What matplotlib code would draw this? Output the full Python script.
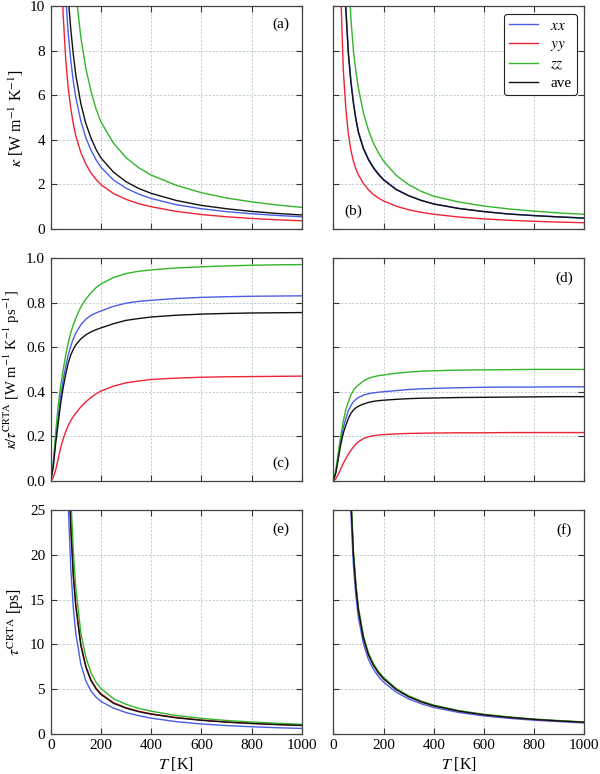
import matplotlib
matplotlib.use("Agg")
import matplotlib.pyplot as plt
from matplotlib.ticker import FormatStrFormatter
import numpy as np

plt.rcParams["font.family"] = "serif"
plt.rcParams["font.serif"] = ["Liberation Serif", "DejaVu Serif"]
plt.rcParams["mathtext.fontset"] = "stix"

# temperature grids [K]
T_dec = [20, 25, 30, 40, 50, 60, 70, 80, 90, 100, 120, 140, 160, 180, 200,
         250, 300, 350, 400, 500, 600, 700, 800, 900, 1000]
T_rise = [0, 10, 20, 30, 40, 50, 60, 70, 80, 90, 100, 120, 140, 160, 180, 200,
          250, 300, 350, 400, 500, 600, 700, 800, 900, 1000]

# (a) kappa, left material
kap_a_xx = [50, 38, 30, 17.7, 12.9, 10.4, 8.75, 7.55, 6.63, 5.9, 4.84, 4.09, 3.55, 3.12, 2.77,
            2.2, 1.83, 1.57, 1.37, 1.09, 0.91, 0.78, 0.685, 0.61, 0.55]
kap_a_yy = [30, 22, 17, 12.7, 9.52, 7.58, 6.3, 5.4, 4.72, 4.18, 3.43, 2.91, 2.52, 2.23, 1.99,
            1.59, 1.33, 1.14, 1.0, 0.79, 0.65, 0.55, 0.475, 0.415, 0.37]
kap_a_zz = [100, 80, 60, 30, 23, 18.7, 15.8, 13.6, 11.9, 10.6, 8.6, 7.2, 6.2, 5.4, 4.8,
            3.85, 3.2, 2.75, 2.42, 1.96, 1.63, 1.39, 1.22, 1.08, 0.97]
kap_a_ave = [70, 50, 38, 21.9, 16.0, 12.65, 10.35, 8.95, 7.83, 6.9, 5.62, 4.73, 4.09, 3.58, 3.19,
             2.55, 2.12, 1.82, 1.6, 1.28, 1.06, 0.91, 0.79, 0.70, 0.63]

# (b) kappa, right material
kap_b_xx = [28.5, 21.3, 17.2, 13.0, 9.95, 7.96, 6.67, 5.72, 4.97, 4.38, 3.64, 3.15, 2.77, 2.48, 2.23,
            1.79, 1.5, 1.29, 1.13, 0.925, 0.785, 0.675, 0.605, 0.545, 0.495]
kap_b_yy = [18, 14, 10.5, 7.1, 5.39, 4.26, 3.53, 3.04, 2.7, 2.43, 2.04, 1.76, 1.55, 1.39, 1.26,
            1.025, 0.864, 0.749, 0.662, 0.538, 0.454, 0.393, 0.347, 0.311, 0.282]
kap_b_zz = [40, 30, 25, 19.6, 14.6, 11.5, 9.47, 8.0, 7.06, 6.31, 5.21, 4.43, 3.85, 3.41, 3.05,
            2.41, 1.99, 1.69, 1.47, 1.21, 1.03, 0.9, 0.8, 0.72, 0.66]
kap_b_ave = [28, 21, 17, 12.8, 9.8, 7.85, 6.58, 5.64, 4.9, 4.32, 3.59, 3.1, 2.73, 2.44, 2.2,
             1.77, 1.49, 1.28, 1.12, 0.92, 0.78, 0.67, 0.6, 0.54, 0.49]

# (c) kappa / tau, left material
c_xx = [0, 0.08, 0.19, 0.29, 0.38, 0.455, 0.515, 0.565, 0.605, 0.637, 0.663, 0.70, 0.725, 0.742,
        0.753, 0.762, 0.783, 0.797, 0.805, 0.81, 0.818, 0.823, 0.826, 0.828, 0.829, 0.83]
c_yy = [0, 0.015, 0.05, 0.10, 0.15, 0.19, 0.222, 0.249, 0.271, 0.289, 0.304, 0.332, 0.355, 0.374,
        0.39, 0.403, 0.425, 0.44, 0.448, 0.455, 0.461, 0.465, 0.467, 0.468, 0.469, 0.47]
c_zz = [0, 0.07, 0.22, 0.34, 0.43, 0.5, 0.565, 0.62, 0.665, 0.70, 0.73, 0.78, 0.815, 0.843,
        0.866, 0.883, 0.912, 0.93, 0.94, 0.946, 0.955, 0.96, 0.964, 0.967, 0.969, 0.97]
c_ave = [0, 0.06, 0.17, 0.26, 0.35, 0.42, 0.48, 0.53, 0.565, 0.59, 0.61, 0.637, 0.655, 0.668,
         0.678, 0.686, 0.705, 0.72, 0.728, 0.735, 0.743, 0.748, 0.751, 0.753, 0.754, 0.755]

# (d) kappa / tau, right material
d_xx = [0, 0.04, 0.11, 0.185, 0.24, 0.28, 0.315, 0.338, 0.355, 0.366, 0.374, 0.385, 0.391, 0.395,
        0.398, 0.40, 0.405, 0.41, 0.413, 0.415, 0.418, 0.42, 0.421, 0.421, 0.422, 0.422]
d_yy = [0, 0.01, 0.03, 0.055, 0.08, 0.1, 0.12, 0.137, 0.152, 0.165, 0.176, 0.19, 0.198, 0.203,
        0.206, 0.208, 0.211, 0.213, 0.214, 0.215, 0.216, 0.216, 0.217, 0.217, 0.217, 0.217]
d_zz = [0, 0.05, 0.13, 0.205, 0.27, 0.32, 0.355, 0.385, 0.405, 0.42, 0.43, 0.448, 0.46, 0.467,
        0.472, 0.475, 0.483, 0.488, 0.492, 0.494, 0.497, 0.498, 0.499, 0.5, 0.5, 0.5]
d_ave = [0, 0.035, 0.1, 0.165, 0.215, 0.25, 0.28, 0.303, 0.318, 0.328, 0.335, 0.345, 0.352, 0.357,
         0.36, 0.362, 0.366, 0.369, 0.371, 0.372, 0.374, 0.375, 0.376, 0.377, 0.378, 0.378]

# (e) tau CRTA, left material
e_xx = [200, 150, 110, 70, 50, 37.5, 25.5, 18.5, 14.1, 11.2, 7.78, 5.89, 4.79, 4.09, 3.6,
        2.85, 2.35, 2.0, 1.72, 1.33, 1.07, 0.89, 0.76, 0.65, 0.57]
e_yy = [255, 184, 133, 82, 60, 45, 31.6, 23.5, 17.95, 14.5, 10.05, 7.57, 6.07, 5.12, 4.47,
        3.46, 2.9, 2.5, 2.21, 1.8, 1.51, 1.3, 1.14, 1.02, 0.92]
e_zz = [300, 220, 160, 95, 70, 50, 36, 26.5, 20.5, 16.3, 11.3, 8.55, 6.85, 5.77, 5.04,
        3.9, 3.27, 2.82, 2.5, 2.02, 1.7, 1.46, 1.29, 1.15, 1.03]
e_ave = [250, 180, 130, 80, 58, 44, 31, 23, 17.6, 14.2, 9.86, 7.42, 5.95, 5.02, 4.38,
         3.39, 2.84, 2.45, 2.17, 1.76, 1.48, 1.27, 1.12, 1.0, 0.9]

# (f) tau CRTA, right material
f_xx = [280, 200, 150, 85, 50, 34, 24.7, 18.9, 15.4, 13.0, 10.05, 8.3, 7.18, 6.38, 5.78,
        4.64, 3.88, 3.34, 2.92, 2.36, 1.97, 1.7, 1.49, 1.33, 1.18]
f_yy = [300, 220, 160, 90, 55, 36.3, 26.3, 20.1, 16.4, 13.8, 10.7, 8.83, 7.64, 6.79, 6.15,
        4.94, 4.13, 3.55, 3.11, 2.51, 2.1, 1.81, 1.58, 1.41, 1.27]
f_zz = [310, 225, 165, 92, 56, 37.2, 27.0, 20.6, 16.8, 14.15, 10.97, 9.05, 7.83, 6.96, 6.3,
        5.06, 4.23, 3.64, 3.19, 2.57, 2.15, 1.86, 1.62, 1.45, 1.3]
f_ave = [300, 220, 160, 90, 55, 36.3, 26.3, 20.1, 16.4, 13.8, 10.7, 8.83, 7.64, 6.79, 6.15,
         4.94, 4.13, 3.55, 3.11, 2.51, 2.1, 1.81, 1.58, 1.41, 1.27]

labels = ["$xx$", "$yy$", "$zz$", "ave"]
colors = ["#4a5de6", "#ef2236", "#33b52a", "#111111"]

panels = [
    ("(a)", T_dec, [kap_a_xx, kap_a_yy, kap_a_zz, kap_a_ave], (0, 10), np.arange(0, 11, 2), (0.918, 0.92)),
    ("(b)", T_dec, [kap_b_xx, kap_b_yy, kap_b_zz, kap_b_ave], (0, 10), np.arange(0, 11, 2), (0.08, 0.078)),
    ("(c)", T_rise, [c_xx, c_yy, c_zz, c_ave], (0, 1), np.arange(0, 1.01, 0.2), (0.918, 0.081)),
    ("(d)", T_rise, [d_xx, d_yy, d_zz, d_ave], (0, 1), np.arange(0, 1.01, 0.2), (0.918, 0.91)),
    ("(e)", T_dec, [e_xx, e_yy, e_zz, e_ave], (0, 25), np.arange(0, 26, 5), (0.918, 0.915)),
    ("(f)", T_dec, [f_xx, f_yy, f_zz, f_ave], (0, 25), np.arange(0, 26, 5), (0.918, 0.911)),
]

ylabels = [r"$\kappa$ [W m$^{-1}$ K$^{-1}$]",
           r"$\kappa/\tau^{\mathrm{CRTA}}$ [W m$^{-1}$ K$^{-1}$ ps$^{-1}$]",
           r"$\tau^{\mathrm{CRTA}}$ [ps]"]
ylabel_sizes = [11.5, 10.5, 11.5]

fig = plt.figure(figsize=(6.0, 7.74), dpi=100)
lefts = [0.0845, 0.5555]
bottoms = [0.7041, 0.3786, 0.0523]
W, H = 0.4185, 0.2882

for i, (tag, T, series, ylim, yt, tpos) in enumerate(panels):
    row, col = divmod(i, 2)
    ax = fig.add_axes([lefts[col], bottoms[row], W, H])
    for y, c, lab in zip(series, colors, labels):
        ax.plot(T, y, color=c, lw=1.0, label=lab)
    ax.set_xlim(0, 1000)
    ax.set_ylim(*ylim)
    ax.set_xticks(np.arange(0, 1001, 200))
    ax.set_yticks(yt)
    ax.grid(True, color="#b4c4cc", linestyle=(0, (2.5, 2)), lw=0.6)
    ax.set_axisbelow(True)
    ax.tick_params(direction="in", top=True, right=True, length=4, width=0.8,
                   color="#333333", labelsize=11, pad=4)
    for s in ax.spines.values():
        s.set_color("#444444")
        s.set_linewidth(0.9)
    if col == 0:
        ax.set_ylabel(ylabels[row], fontsize=ylabel_sizes[row], labelpad=3)
        if row == 2:
            ax.yaxis.set_major_formatter(FormatStrFormatter("%d"))
        elif row == 1:
            ax.yaxis.set_major_formatter(FormatStrFormatter("%.1f"))
    else:
        ax.tick_params(labelleft=False)
    if row == 2:
        ax.set_xlabel("$T$ [K]", fontsize=11.5, labelpad=2)
    else:
        ax.tick_params(labelbottom=False)
    ax.text(tpos[0], tpos[1], tag, transform=ax.transAxes, ha="center",
            va="center", fontsize=11)
    if tag == "(b)":
        leg = ax.legend(loc="upper right", fontsize=11, handlelength=1.9,
                        handletextpad=0.8, borderpad=0.35, borderaxespad=0.5,
                        labelspacing=0.3, fancybox=True, framealpha=1.0,
                        edgecolor="#222222")
        leg.get_frame().set_linewidth(0.8)

fig.savefig("out.png", dpi=100)
